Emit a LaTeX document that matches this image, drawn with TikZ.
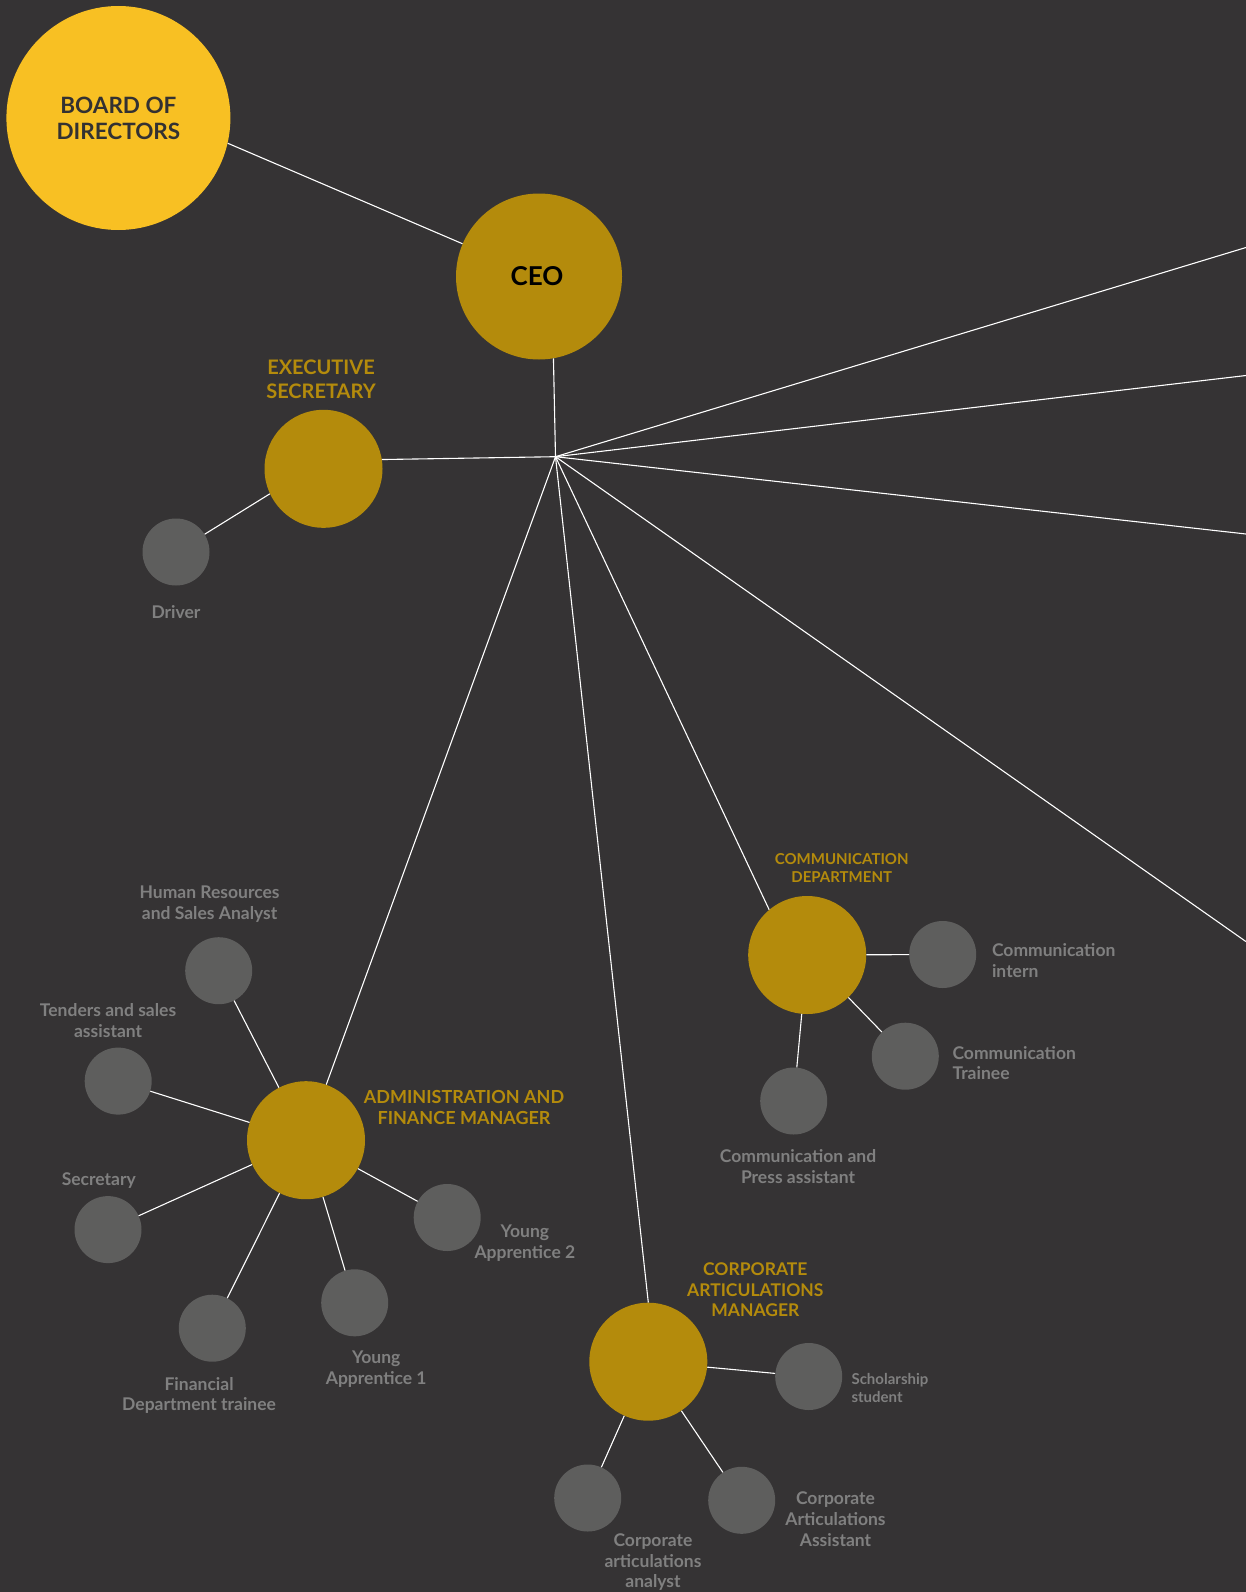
\documentclass[tikz,border=0pt]{standalone}
\usepackage{fontspec}
\setmainfont{Lato}
\definecolor{bgdark}{RGB}{53,51,52}
\definecolor{boardyellow}{RGB}{248,192,35}
\definecolor{mgrgold}{RGB}{180,139,12}
\definecolor{staffgrey}{RGB}{94,94,93}
\definecolor{labelgrey}{RGB}{128,128,128}
\definecolor{boardtext}{RGB}{51,49,50}

\tikzset{
    link/.style={white,line width=1.1pt},
    board/.style={circle,fill=boardyellow,inner sep=0pt,minimum size=224pt},
    chief/.style={circle,fill=mgrgold,inner sep=0pt,minimum size=166pt},
    mgr/.style={circle,fill=mgrgold,inner sep=0pt,minimum size=118pt},
    staff/.style={circle,fill=staffgrey,inner sep=0pt,minimum size=67pt},
    mgrlabel/.style={text=mgrgold,font=\bfseries\fontsize{18}{21}\selectfont,align=center},
    stafflabel/.style={text=labelgrey,font=\bfseries\fontsize{17.5}{20.7}\selectfont,align=center}
}

\begin{document}
\begin{tikzpicture}[x=1pt,y=-1pt]
    \useasboundingbox (0,0) rectangle (1246,1592);
    \fill[bgdark] (0,0) rectangle (1246,1592);
    \node[board,text=boardtext,font=\bfseries\fontsize{22.5}{26}\selectfont,align=center] (bod) at (118.4,118) {BOARD OF\\DIRECTORS};
    \node[chief,font=\bfseries\fontsize{26}{30}\selectfont] (ceo) at (539,276.5) {\hspace{-4pt}CEO};
    \node[mgr] (exec) at (323.5,468.8) {};
    \node[staff] (driver) at (176,552) {};
    \node[mgr] (afm) at (306,1140.2) {};
    \node[staff] (hr) at (218.7,970.7) {};
    \node[staff] (tenders) at (118.2,1081.1) {};
    \node[staff] (secr) at (108,1229.6) {};
    \node[staff] (fintrainee) at (212.3,1328.2) {};
    \node[staff] (young1) at (354.7,1302.8) {};
    \node[staff] (young2) at (447.2,1217.5) {};
    \node[mgr] (comm) at (807.2,955) {};
    \node[staff] (comintern) at (942.7,954.5) {};
    \node[staff] (comtrainee) at (905.3,1056.2) {};
    \node[staff] (press) at (793.7,1101) {};
    \node[mgr] (cam) at (648.3,1361.7) {};
    \node[staff] (scholar) at (808.7,1376.5) {};
    \node[staff] (analyst) at (587.7,1498) {};
    \node[staff] (cassist) at (741.7,1500.3) {};

    \node[mgrlabel,font=\bfseries\fontsize{20}{24}\selectfont] (exectxt) at (321,379) {EXECUTIVE\\SECRETARY};
    \node[mgrlabel] (afmtxt) at (464,1107.4) {ADMINISTRATION AND\\FINANCE MANAGER};
    \node[mgrlabel,font=\bfseries\fontsize{17.5}{20.5}\selectfont] (camtxt) at (755.3,1289.7) {CORPORATE\\ARTICULATIONS\\MANAGER};
    \node[mgrlabel,font=\bfseries\fontsize{15}{17.7}\selectfont] (commtxt) at (841.7,867.9) {COMMUNICATION\\DEPARTMENT};
    \node[stafflabel] (drivertxt) at (176,612) {Driver};
    \node[stafflabel] (hrtxt) at (209.6,904.3) {Human Resources\\and Sales Analyst};
    \node[stafflabel] (tenderstxt) at (108.1,1020.7) {Tenders and sales\\assistant};
    \node[stafflabel] (secrtxt) at (98.8,1180.4) {Secretary};
    \node[stafflabel] (young2txt) at (524.9,1242.9) {Young\\Apprentice 2};
    \node[stafflabel] (young1txt) at (376.2,1368.8) {Young\\Apprentice 1};
    \node[stafflabel] (fintraineetxt) at (199.1,1395.4) {Financial\\Department trainee};
    \node[stafflabel,anchor=west,align=left,font=\bfseries\fontsize{15}{17.7}\selectfont] (scholartxt) at (848,1388.2) {Scholarship\\student};
    \node[stafflabel] (analysttxt) at (653,1562.3) {Corporate\\articulations\\analyst};
    \node[stafflabel] (cassisttxt) at (835.5,1519.3) {Corporate\\Articulations\\Assistant};
    \node[stafflabel,anchor=west,align=left] (comintxt) at (988.5,960.4) {Communication\\intern};
    \node[stafflabel,anchor=west,align=left] (comtraintxt) at (949,1063) {Communication\\Trainee};
    \node[stafflabel] (presstxt) at (798,1166.7) {Communication and\\Press assistant};

    \coordinate (hub) at (555.5,456.7);
    \coordinate (edgeA) at (1246,247.5);
    \coordinate (edgeB) at (1246,375.5);
    \coordinate (edgeC) at (1246,534);
    \coordinate (edgeD) at (1246,941.6);

    \draw[link] (bod.-13.7) -- (ceo);
    \draw[link] (ceo.-80) -- (hub);
    \draw[link] (hub) -- (exec.9);
    \draw[link] (exec.205) -- (driver);
    \draw[link] (hub) -- (afm.70);
    \draw[link] (hub) -- (cam.north);
    \draw[link] (hub) -- (comm.130);
    \draw[link] (hub) -- (edgeA);
    \draw[link] (hub) -- (edgeB);
    \draw[link] (hub) -- (edgeC);
    \draw[link] (hub) -- (edgeD);
    \draw[link] (afm) -- (hr);
    \draw[link] (afm) -- (tenders);
    \draw[link] (afm) -- (secr);
    \draw[link] (afm) -- (fintrainee);
    \draw[link] (afm) -- (young1);
    \draw[link] (afm) -- (young2);
    \draw[link] (comm) -- (comintern);
    \draw[link] (comm) -- (comtrainee);
    \draw[link] (comm) -- (press);
    \draw[link] (cam) -- (scholar);
    \draw[link] (cam) -- (analyst);
    \draw[link] (cam) -- (cassist);
\end{tikzpicture}
\end{document}
